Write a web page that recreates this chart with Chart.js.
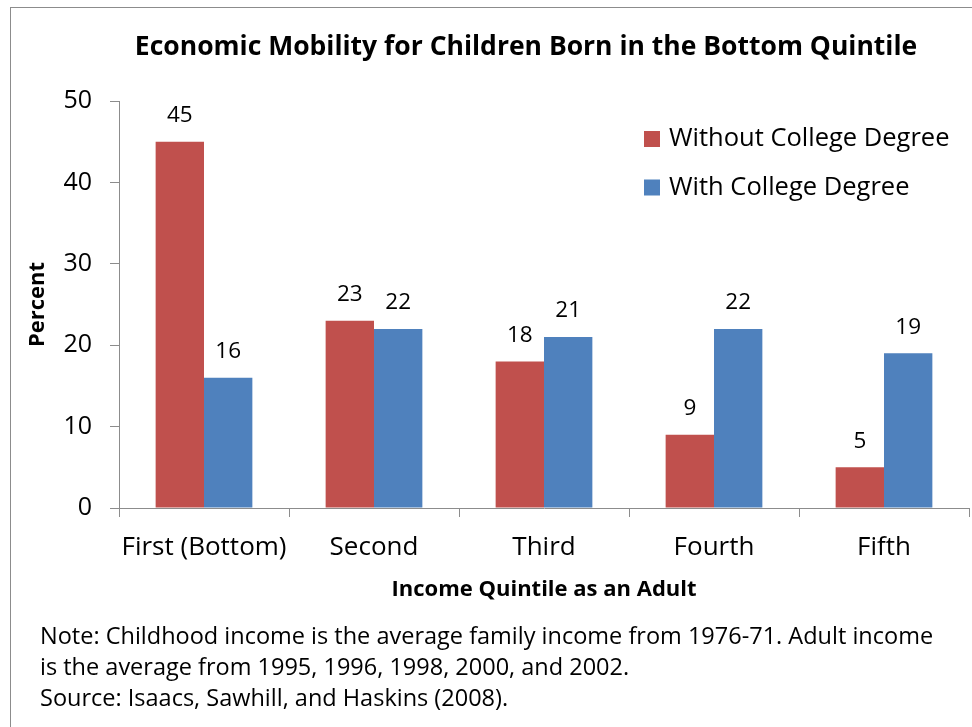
<!DOCTYPE html>
<html>
<head>
<meta charset="utf-8">
<script src="https://cdn.jsdelivr.net/npm/chart.js@4/dist/chart.umd.min.js"></script>
<style>
  html, body { margin:0; padding:0; background:#fff; overflow:hidden; width:972px; height:727px; }
  #frame { position:absolute; left:10px; top:7px; width:1100px; height:900px; border:1px solid #8c8c8c; box-sizing:border-box; }
  #wrap { position:absolute; left:0; top:0; width:1052px; height:727px; }
  #note { position:absolute; left:40px; top:620px; font-family:"Open Sans", sans-serif; font-size:23.5px; line-height:31px; color:#000; white-space:nowrap; }
</style>
</head>
<body>
<div id="frame"></div>
<div id="wrap"><canvas id="c" width="1052" height="727"></canvas></div>
<div id="note">Note: Childhood income is the average family income from 1976-71. Adult income<br>is the average from 1995, 1996, 1998, 2000, and 2002.<br>Source: Isaacs, Sawhill, and Haskins (2008).</div>
<script>
const categories = ["First (Bottom)", "Second", "Third", "Fourth", "Fifth"];
const withoutDegree = [45, 23, 18, 9, 5];
const withDegree = [16, 22, 21, 22, 19];
const seriesNames = ["Without College Degree", "With College Degree"];
const yTicks = [0, 10, 20, 30, 40, 50];
const chartTitle = "Economic Mobility for Children Born in the Bottom Quintile";
const xTitle = "Income Quintile as an Adult";
const yTitle = "Percent";

const RED = "#C0504D", BLUE = "#4F81BD";
const FONT = "'Open Sans', sans-serif";

const dataLabels = {
  id: "dataLabels",
  afterDatasetsDraw(chart) {
    const ctx = chart.ctx;
    ctx.save();
    ctx.font = "22.5px " + FONT;
    ctx.fillStyle = "#000";
    ctx.textAlign = "center";
    ctx.textBaseline = "middle";
    chart.data.datasets.forEach((ds, i) => {
      chart.getDatasetMeta(i).data.forEach((bar, j) => {
        ctx.fillText(String(ds.data[j]), bar.x, bar.y - 26);
      });
    });
    ctx.restore();
  }
};

const boxLegend = {
  id: "boxLegend",
  afterDraw(chart) {
    const ctx = chart.ctx;
    ctx.save();
    ctx.font = "25.5px " + FONT;
    ctx.textAlign = "left";
    ctx.textBaseline = "middle";
    chart.data.datasets.forEach((ds, i) => {
      const y = 131 + i * 48.5;
      ctx.fillStyle = ds.backgroundColor;
      ctx.fillRect(644, y, 16, 16);
      ctx.fillStyle = "#000";
      ctx.fillText(ds.label, 669, y + 8);
    });
    ctx.restore();
  }
};

const titleText = {
  id: "titleText",
  afterDraw(chart) {
    const ctx = chart.ctx;
    ctx.save();
    ctx.font = "bold 26.5px " + FONT;
    ctx.fillStyle = "#000";
    ctx.textAlign = "center";
    ctx.textBaseline = "middle";
    ctx.fillText(chartTitle, 526, 47);
    ctx.restore();
  }
};

new Chart(document.getElementById("c"), {
  type: "bar",
  data: {
    labels: categories,
    datasets: [
      { label: seriesNames[0], data: withoutDegree, backgroundColor: RED },
      { label: seriesNames[1], data: withDegree, backgroundColor: BLUE }
    ]
  },
  options: {
    responsive: false,
    animation: false,
    events: [],
    layout: { padding: { left: 24.8, right: 83, top: 101, bottom: 123.8 } },
    datasets: { bar: { categoryPercentage: 0.569, barPercentage: 1.0 } },
    plugins: {
      legend: { display: false },
      tooltip: { enabled: false },
      title: { display: false }
    },
    scales: {
      x: {
        offset: true,
        grid: { offset: true, drawOnChartArea: false, tickLength: 9, color: "#8c8c8c" },
        border: { color: "#8c8c8c", width: 1 },
        ticks: { color: "#000", font: { family: FONT, size: 26 }, padding: 15, maxRotation: 0 },
        title: { display: true, text: xTitle, color: "#000", font: { family: FONT, size: 22, weight: "bold", lineHeight: 1.2 }, padding: { top: 0, bottom: 0 } },
        afterFit(s) { s.height = 95.2; }
      },
      y: {
        min: 0, max: 50,
        afterBuildTicks(s) { s.ticks = yTicks.map(v => ({ value: v })); },
        grid: { drawOnChartArea: false, tickLength: 9, color: "#8c8c8c" },
        border: { color: "#8c8c8c", width: 1 },
        ticks: { color: "#000", font: { family: FONT, size: 25 }, padding: 18 },
        title: { display: true, text: yTitle, color: "#000", font: { family: FONT, size: 22, weight: "bold", lineHeight: 1.2 }, padding: { top: 0, bottom: 0 } },
        afterFit(s) { s.width = 94.2; }
      }
    }
  },
  plugins: [dataLabels, boxLegend, titleText]
});
</script>
</body>
</html>
